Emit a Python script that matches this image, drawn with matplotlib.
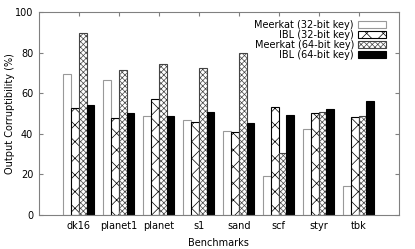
import numpy as np
import matplotlib
matplotlib.use("Agg")
import matplotlib.pyplot as plt

# ── data ─────────────────────────────────────────
benchmarks = ["dk16", "planet1", "planet", "s1", "sand", "scf", "styr", "tbk"]
meerkat_32 = [69.7, 66.4, 48.7, 46.7, 41.6, 19.1, 42.3, 14.1]
ibl_32     = [52.8, 47.9, 57.2, 45.7, 41.1, 53.1, 50.2, 48.2]
meerkat_64 = [89.6, 71.5, 74.4, 72.4, 80.1, 30.4, 50.7, 48.7]
ibl_64     = [54.1, 50.2, 49.0, 51.0, 45.2, 49.2, 52.1, 56.1]

series = [
    ("Meerkat (32-bit key)", meerkat_32, dict(facecolor="white", edgecolor="#999999", hatch="")),
    ("IBL (32-bit key)",     ibl_32,     dict(facecolor="white", edgecolor="black", hatch="xx")),
    ("Meerkat (64-bit key)", meerkat_64, dict(facecolor="white", edgecolor="#444444", hatch="xxxxxx")),
    ("IBL (64-bit key)",     ibl_64,     dict(facecolor="black", edgecolor="black", hatch="")),
]

plt.rcParams["font.family"] = ["DejaVu Sans"]
plt.rcParams["hatch.linewidth"] = 0.5

fig = plt.figure(figsize=(4.15, 2.49), dpi=100)
ax = fig.add_axes([0.0933, 0.1365, 0.8674, 0.8141])

x = np.arange(len(benchmarks))
w = 0.195
for i, (label, vals, style) in enumerate(series):
    ax.bar(x + (i - 1.5) * w, vals, width=w, linewidth=0.8, label=label, **style)

ax.set_xlim(-1, 8)
ax.set_ylim(0, 100)
ax.set_xticks(x)
ax.set_xticklabels(benchmarks)
ax.set_yticks(np.arange(0, 101, 20))
ax.tick_params(axis="both", direction="in", length=3, width=0.8, color="#808080",
               labelsize=7, top=True, right=True, pad=4)
for s in ax.spines.values():
    s.set_color("#808080")
    s.set_linewidth(0.8)

ax.set_xlabel("Benchmarks", fontsize=7)
ax.set_ylabel("Output Corruptibility (%)", fontsize=7)
ax.xaxis.set_label_coords(0.5, -0.138)
ax.yaxis.set_label_coords(-0.08, 0.5)
ax.xaxis.label.set_va("center")
ax.yaxis.label.set_va("center")

leg = ax.legend(loc="upper right", bbox_to_anchor=(0.985, 1.0), frameon=False,
                markerfirst=False, fontsize=7,
                handlelength=2.9, handleheight=0.7, labelspacing=0.0,
                borderaxespad=0.35, handletextpad=0.4)
for t in leg.get_texts():
    t.set_ha("right")

fig.savefig("out.png", dpi=100)
